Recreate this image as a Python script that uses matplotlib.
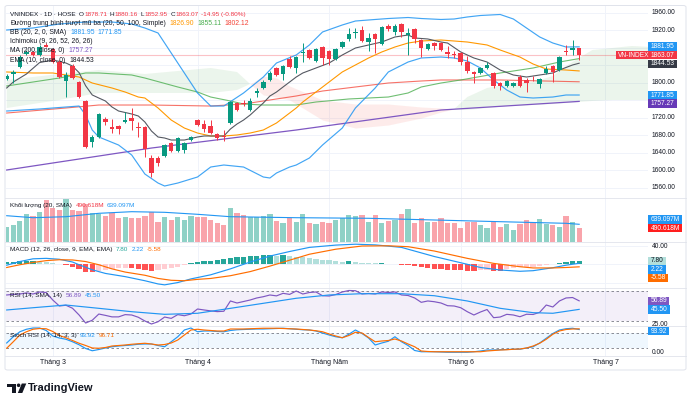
import numpy as np
import matplotlib
matplotlib.use("Agg")
import matplotlib.pyplot as plt
from matplotlib.patches import Rectangle, Polygon, Ellipse, FancyBboxPatch

plt.rcParams['font.family'] = ['Liberation Sans', 'DejaVu Sans']

# ------------------------------------------------------------------ DATA
opens = [1809.6, 1819.9, 1835.2, 1865.6, 1870.2, 1863.3, 1886.2, 1877.0, 1847.3, 1803.9,
         1838.2, 1801.6, 1758.2, 1664.5, 1675.9, 1717.0, 1698.7, 1701.0, 1710.2, 1719.3,
         1699.9, 1698.7, 1627.9, 1627.9, 1632.4, 1662.2, 1643.9, 1646.2, 1669.0, 1714.7,
         1705.6, 1701.0, 1682.7, 1679.3, 1707.9, 1753.6, 1754.7, 1737.6, 1777.6, 1787.9,
         1806.2, 1833.6, 1819.9, 1854.2, 1833.6, 1867.9, 1874.7, 1849.6, 1881.6, 1872.5,
         1854.2, 1881.6, 1899.9, 1912.5, 1920.5, 1893.0, 1911.3, 1888.5, 1929.6, 1915.9,
         1934.2, 1909.0, 1922.7, 1897.6, 1877.0, 1890.7, 1890.7, 1870.2, 1865.6, 1867.9,
         1847.3, 1824.5, 1822.2, 1833.6, 1822.2, 1799.3, 1792.5, 1792.5, 1813.0, 1806.2,
         1809.6, 1797.0, 1822.2, 1838.2, 1829.0, 1872.5, 1874.7, 1878.71]
highs = [1819.9, 1829.0, 1863.3, 1874.7, 1872.5, 1886.2, 1890.7, 1879.3, 1851.9, 1824.5,
         1842.7, 1803.9, 1760.5, 1680.5, 1730.7, 1721.6, 1717.0, 1703.3, 1733.0, 1742.2,
         1710.2, 1701.0, 1634.7, 1632.4, 1659.9, 1664.5, 1675.9, 1664.5, 1678.2, 1717.0,
         1714.7, 1714.7, 1685.0, 1691.9, 1758.2, 1755.9, 1760.5, 1765.0, 1787.9, 1806.2,
         1826.7, 1835.9, 1840.5, 1861.0, 1861.0, 1890.7, 1877.0, 1879.3, 1883.9, 1874.7,
         1879.3, 1895.3, 1925.0, 1925.0, 1929.6, 1913.6, 1913.6, 1929.6, 1934.2, 1934.2,
         1936.5, 1925.0, 1925.0, 1899.9, 1890.7, 1893.0, 1893.0, 1883.9, 1872.5, 1870.2,
         1861.0, 1826.7, 1835.9, 1847.3, 1824.5, 1801.6, 1806.2, 1801.6, 1817.6, 1810.7,
         1815.3, 1810.7, 1838.2, 1840.5, 1861.0, 1886.2, 1897.6, 1880.16]
lows = [1806.2, 1799.3, 1833.6, 1863.3, 1861.0, 1861.0, 1881.6, 1845.0, 1810.7, 1767.3,
        1808.5, 1765.0, 1650.7, 1653.0, 1673.6, 1703.3, 1685.0, 1682.7, 1707.9, 1691.9,
        1675.9, 1630.2, 1584.5, 1609.6, 1630.2, 1641.6, 1641.6, 1639.3, 1666.7, 1701.0,
        1687.3, 1682.7, 1669.0, 1666.7, 1705.6, 1735.3, 1746.7, 1735.3, 1767.3, 1785.6,
        1803.9, 1815.3, 1806.2, 1833.6, 1822.2, 1847.3, 1854.2, 1847.3, 1840.5, 1840.5,
        1851.9, 1879.3, 1895.3, 1902.2, 1893.0, 1872.5, 1867.9, 1886.2, 1918.2, 1909.0,
        1904.5, 1863.3, 1890.7, 1858.7, 1874.7, 1874.7, 1872.5, 1856.5, 1856.5, 1840.5,
        1822.2, 1799.3, 1819.9, 1831.3, 1787.9, 1783.3, 1790.2, 1790.2, 1790.2, 1778.7,
        1803.9, 1787.9, 1819.9, 1801.6, 1826.7, 1863.3, 1863.3, 1852.95]
closes = [1815.3, 1825.6, 1859.4, 1870.2, 1863.3, 1882.3, 1882.7, 1847.3, 1813.0, 1817.6,
          1810.7, 1767.3, 1653.0, 1675.9, 1728.5, 1710.2, 1694.2, 1694.2, 1714.7, 1712.4,
          1697.6, 1648.4, 1593.6, 1616.5, 1657.6, 1643.9, 1673.6, 1662.2, 1675.9, 1703.3,
          1694.2, 1685.0, 1673.6, 1677.0, 1755.9, 1737.6, 1751.3, 1758.2, 1779.9, 1801.6,
          1822.2, 1817.6, 1838.2, 1835.9, 1858.7, 1871.3, 1856.5, 1877.0, 1856.5, 1854.2,
          1877.0, 1893.0, 1911.3, 1915.9, 1895.3, 1902.2, 1899.9, 1927.3, 1922.7, 1929.6,
          1915.9, 1913.6, 1899.9, 1879.3, 1888.5, 1883.9, 1874.7, 1865.6, 1863.3, 1847.3,
          1826.7, 1819.9, 1833.6, 1840.5, 1792.5, 1792.5, 1803.9, 1799.3, 1792.5, 1799.3,
          1807.4, 1808.5, 1831.3, 1824.5, 1858.7, 1870.2, 1879.3, 1863.07]

volume_m = [527, 612, 772, 1020, 958, 1107, 1540, 1231, 1169, 1577,
            1169, 1132, 1379, 1045, 1020, 958, 1045, 884, 921, 860,
            884, 958, 1107, 736, 897, 798, 921, 798, 958, 921,
            921, 798, 674, 612, 1256, 1070, 983, 897, 897, 946,
            1008, 760, 699, 884, 711, 1020, 674, 637, 736, 699,
            798, 884, 983, 958, 983, 736, 983, 699, 760, 798,
            1020, 1206, 674, 860, 736, 736, 884, 699, 699, 513,
            736, 736, 612, 513, 736, 550, 637, 427, 637, 798,
            699, 835, 637, 612, 550, 946, 720, 490.618]
vol_sma_idx = [0, 4, 9, 14, 19, 24, 29, 34, 44, 55, 65, 75, 85, 87]
vol_sma = [957, 883, 920, 1046, 1106, 1083, 1009, 920, 883, 861, 798, 735, 675, 639.097]

bb_up_idx = [0, 4, 8, 12, 16, 19, 21, 23, 25, 27, 29, 31, 33, 36, 39, 41, 44, 46, 48, 51,
             53, 56, 58, 61, 63, 66, 68, 70, 72, 75, 77, 79, 81, 83, 85, 87]
bb_up = [1920.5, 1925.0, 1934.2, 1938.7, 1938.7, 1934.2, 1925.0, 1913.6, 1867.9, 1822.2,
         1776.5, 1746.7, 1746.7, 1776.5, 1813.0, 1845.0, 1863.3, 1886.2, 1915.9, 1931.9,
         1941.0, 1944.5, 1946.7, 1949.0, 1946.7, 1944.5, 1945.6, 1950.2, 1953.6, 1955.9,
         1945.6, 1925.0, 1904.5, 1890.7, 1881.6, 1881.95]
bb_lo_idx = [0, 5, 11, 12, 13, 14, 17, 19, 21, 23, 24, 26, 29, 31, 33, 36, 39, 40, 41, 43,
             44, 46, 48, 51, 53, 56, 58, 61, 63, 66, 68, 70, 72, 74, 76, 78, 80, 83, 85, 87]
bb_lo = [1735.3, 1739.9, 1746.7, 1726.2, 1691.9, 1675.9, 1657.6, 1634.7, 1591.3, 1570.7,
         1563.9, 1570.7, 1584.5, 1607.3, 1611.9, 1607.3, 1584.5, 1582.2, 1593.6, 1607.3,
         1611.9, 1627.9, 1657.6, 1696.4, 1742.2, 1787.9, 1824.5, 1847.3, 1856.5, 1858.7,
         1856.5, 1849.6, 1833.6, 1806.2, 1783.3, 1767.3, 1765.0, 1767.3, 1771.9, 1771.85]

ema10_idx = [0, 1, 3, 5, 7, 9, 10, 11, 12, 13, 14, 15, 16, 17, 19, 20, 21, 22, 23, 24,
             25, 27, 29, 30, 33, 34, 35, 36, 37, 38, 39, 40, 41, 42, 43, 44, 45, 47, 49, 51,
             53, 55, 57, 59, 61, 62, 64, 66, 67, 69, 71, 73, 75, 77, 79, 81, 83, 84, 86, 87]
ema10 = [1787.9, 1801.6, 1819.9, 1846.0, 1852.0, 1845.0, 1838.0, 1823.0, 1793.0, 1772.0,
         1765.0, 1758.2, 1744.5, 1735.3, 1728.5, 1723.9, 1710.2, 1689.6, 1675.9, 1673.6,
         1669.0, 1669.0, 1675.9, 1678.2, 1678.2, 1694.2, 1705.6, 1714.7, 1726.2, 1739.9,
         1753.6, 1769.6, 1778.7, 1790.2, 1801.6, 1813.0, 1822.2, 1833.6, 1845.0, 1863.3,
         1879.3, 1886.2, 1893.0, 1904.5, 1909.0, 1902.2, 1899.9, 1893.0, 1890.7, 1870.2,
         1856.5, 1847.3, 1829.0, 1817.6, 1813.0, 1817.6, 1822.2, 1829.0, 1840.5, 1844.53]

ema20_idx = [0, 4, 7, 11, 13, 16, 18, 20, 21, 23, 25, 27, 29, 31, 33, 35, 37, 39, 41, 43,
             44, 45, 47, 49, 51, 53, 55, 57, 59, 61, 63, 66, 70, 73, 75, 78, 80, 82, 85, 87]
ema20 = [1824.5, 1822.2, 1822.2, 1813.0, 1799.3, 1787.9, 1778.7, 1767.3, 1765.0, 1742.2,
         1714.7, 1696.4, 1685.0, 1678.2, 1678.2, 1680.5, 1685.0, 1691.9, 1707.9, 1730.7,
         1742.2, 1755.9, 1778.7, 1801.6, 1824.5, 1840.5, 1856.5, 1870.2, 1881.6, 1890.7,
         1895.3, 1897.6, 1893.0, 1886.2, 1874.7, 1858.7, 1842.7, 1831.3, 1829.0, 1826.90]

ema50_idx = [0, 4, 8, 12, 14, 19, 21, 26, 29, 31, 34, 36, 39, 42, 44, 47, 52, 58, 61, 63,
             66, 69, 75, 80, 84, 87]
ema50 = [1792.5, 1801.6, 1810.7, 1822.2, 1822.2, 1817.6, 1810.7, 1790.2, 1778.7, 1767.3,
         1758.2, 1751.3, 1749.0, 1749.0, 1749.0, 1755.9, 1762.8, 1767.3, 1776.5, 1790.2,
         1799.3, 1806.2, 1822.2, 1833.6, 1847.3, 1855.11]

ema100_idx = [0, 9, 14, 22, 31, 36, 41, 44, 48, 53, 58, 63, 66, 75, 87]
ema100 = [1730.7, 1742.2, 1749.0, 1749.0, 1746.7, 1751.3, 1762.8, 1769.6, 1781.0, 1790.2,
          1799.3, 1803.9, 1806.2, 1806.2, 1802.12]

ma200_idx = [0, 22, 44, 66, 87]
ma200 = [1600.5, 1650.7, 1691.9, 1737.6, 1757.27]

cloud_idx = [0, 8, 14, 21, 31, 35, 37, 39, 41, 43, 48, 53, 58, 63, 66, 68, 70, 73, 76, 80,
             83, 85, 87, 89, 92, 95, 98]
span_a = [1806.2, 1819.9, 1829.0, 1819.9, 1833.6, 1824.5, 1797.0, 1771.9, 1767.3, 1760.5,
          1714.7, 1696.4, 1703.3, 1719.3, 1733.0, 1739.9, 1767.3, 1787.9, 1797.0, 1801.6,
          1815.3, 1838.2, 1856.5, 1874.7, 1879.3, 1883.9, 1881.6]
span_b = [1742.2, 1760.5, 1776.5, 1776.5, 1776.5, 1783.3, 1797.0, 1815.3, 1810.7, 1792.5,
          1760.5, 1751.3, 1751.3, 1744.5, 1742.2, 1739.9, 1737.6, 1742.2, 1746.7, 1749.0,
          1751.3, 1753.6, 1755.9, 1758.2, 1760.5, 1760.5, 1760.5]

macd_idx = [0, 2, 4, 6, 8, 10, 11, 13, 15, 18, 21, 23, 24, 26, 28, 31, 34, 37, 40, 43,
            46, 50, 53, 56, 60, 65, 70, 72, 75, 78, 80, 83, 85, 87]
macd_line = [-2, 6, 12, 13, 11, 5, -1, -12, -20, -27, -36, -43, -45, -40, -32, -23, -10, 5, 18, 28,
             37, 42, 44, 42.5, 37, 17, 0, -7, -12.5, -15.3, -14, -7.5, -2, 2.22]
signal_idx = [0, 2, 4, 6, 8, 10, 12, 14, 16, 18, 21, 23, 25, 27, 29, 31, 34, 37, 40, 43,
              46, 50, 54, 58, 61, 65, 70, 74, 78, 80, 83, 85, 87]
signal_line = [-7, -1, 4, 8, 10, 9.5, 6, -1, -10, -17, -24, -31, -35, -36, -33, -31, -25, -16, -4, 9,
               22, 33, 40, 40.5, 38.5, 29, 13, 2, -5.3, -8, -8, -7, -5.58]
macd_hist = [5, 6, 7, 8, 8, 6, 4, 2, 1, -1,
             -5, -10, -16, -17, -14, -12, -10, -9, -8, -8,
             -10, -13, -14, -13, -11, -8, -5, -1, 2, 5,
             7, 8, 10, 12, 14, 16, 17, 18, 19, 20,
             21, 19, 20, 18, 16, 15, 14, 12, 10, 9,
             8, 6, 6.5, 4, 3, 2.5, 2, 2.5, 1.5, 0.5,
             -1, -2, -4, -6, -8, -10, -11, -12, -13, -13.5,
             -14, -15, -13, -12, -14, -14.5, -11, -9, -7, -6,
             -5, -3, -1.5, 0.5, 3, 5, 6.5, 7.8]

rsi = [64.7, 65.5, 66, 67.5, 66, 68.7, 68, 58, 50, 51,
       47, 38, 27.3, 31, 39.3, 37.5, 35.5, 35.5, 38.5, 38,
       35, 30, 26, 29, 35.3, 33.5, 38.5, 37, 39.3, 46,
       44.7, 43.5, 42.5, 43, 56.7, 54, 56, 58, 60.7, 62.4,
       64.7, 63.5, 66.9, 65.5, 70, 66, 68, 68.7, 63.7, 63.3,
       65.3, 68.7, 70.7, 70.4, 66, 66.7, 66, 68.7, 68, 68.7,
       64.7, 64, 60.7, 54.9, 56.7, 55.7, 54, 50.4, 50, 47.7,
       42.4, 38, 42, 45.3, 34.4, 35.3, 38.9, 38, 35.7, 39,
       38.7, 41.6, 51.3, 48.7, 56.7, 60.7, 61.3, 56.89]
rsi_sma_idx = [0, 4, 9, 14, 19, 24, 29, 34, 39, 44, 49, 54, 60, 65, 70, 75, 80, 83, 87]
rsi_sma = [44.7, 47.7, 51.3, 46.9, 42.4, 38.9, 40.3, 46.9, 53.6, 60.3,
           64.7, 66.4, 66.4, 63.7, 56.7, 46.9, 41.1, 40.3, 45.5]

stoch_k = [40, 65, 85, 95, 100, 100, 90, 68, 60, 55,
           45, 33, 18, 9, 14, 20, 25, 28, 30, 32,
           35, 36, 36, 30, 25, 45, 65, 92, 100, 85,
           88, 88, 86, 85, 90, 93, 94, 95, 96, 96,
           97, 98, 99, 97, 95, 93, 92, 88, 80, 72,
           65, 61, 75, 92, 78, 60, 32, 40, 47, 65,
           45, 30, 10, 5, 5, 5, 4, 3, 3, 3,
           3, 5, 8, 12, 12, 13, 14, 15, 15, 20,
           25, 40, 59, 78, 92, 97, 99, 93.92]
stoch_d = [19, 45, 72, 85, 95, 98, 97, 86, 70, 61,
           50, 39, 30, 20, 19, 22, 28, 30, 32, 35,
           37, 39, 36, 32, 34, 40, 52, 72, 92, 95,
           92, 90, 88, 88, 96, 96, 96, 97, 98, 99,
           99, 99, 98, 97, 96, 94, 92, 89, 85, 76,
           68, 61, 70, 83, 80, 62, 45, 48, 50, 56,
           48, 36, 25, 8, 6, 5, 5, 5, 5, 5,
           5, 5, 5, 8, 10, 12, 13, 15, 16, 20,
           28, 39, 55, 75, 88, 94, 96, 96.71]

month_idx = [7, 29, 49, 69, 91]
month_labels = ["Tháng 3", "Tháng 4", "Tháng Năm", "Tháng 6", "Tháng 7"]
price_ticks = [1560, 1600, 1640, 1680, 1720, 1760, 1800, 1840, 1880, 1920, 1960]
macd_ticks = [40, 0, -40]
rsi_ticks = [25, 50, 75]
stoch_ticks = [0, 100]

# ------------------------------------------------------------------ STYLE / LAYOUT
W, H, DPI = 690, 403, 100
TXT = '#131722'
UP, DN = '#089981', '#f23645'
BLUE, ORANGE, PURPLE = '#2196f3', '#ff6d00', '#7e57c2'
GRID = '#f0f3fa'
SEP = '#e0e3eb'

fig = plt.figure(figsize=(W / DPI, H / DPI), dpi=DPI, facecolor='white')
renderer = fig.canvas.get_renderer()


def fx(px):
    return px / W


def fy(py):
    return 1 - py / H


PLOT_L, PLOT_R = 6, 648
BAR0, BARW = 6.7, 6.58
XLIM = ((PLOT_L - BAR0) / BARW, (PLOT_R - BAR0) / BARW)
PANES = {'p': (6, 198), 'v': (198, 242), 'm': (242, 287.5), 'r': (287.5, 326), 's': (326, 356)}


def pane(key, ylim):
    top, bottom = PANES[key]
    ax = fig.add_axes([fx(PLOT_L), fy(bottom), (PLOT_R - PLOT_L) / W, (bottom - top) / H])
    ax.set_xlim(*XLIM)
    ax.set_ylim(*ylim)
    ax.axis('off')
    for m in month_idx:
        ax.axvline(m, color=GRID, lw=0.7, zorder=0)
    return ax


ax_p = pane('p', (1536.5, 1975.3))
ax_v = pane('v', (-18.5, 1614))
ax_m = pane('m', (-50.8, 48.8))
ax_r = pane('r', (23.33, 74.67))
ax_s = pane('s', (-12, 108))

n = len(closes)
idx = np.arange(n)
o, h, l, c = map(np.array, (opens, highs, lows, closes))
up = c >= o
cols = np.where(up, UP, DN)

# ---------------- main pane
for t in price_ticks:
    ax_p.axhline(t, color=GRID, lw=0.7, zorder=0)

ci = np.array(cloud_idx, float)
sa, sb = np.array(span_a), np.array(span_b)
ax_p.fill_between(ci, sa, sb, where=sa >= sb, interpolate=True, color='#43a047', alpha=0.1, lw=0, zorder=1)
ax_p.fill_between(ci, sa, sb, where=sa < sb, interpolate=True, color='#f44336', alpha=0.1, lw=0, zorder=1)

ax_p.axhline(closes[-1], color=DN, lw=0.8, alpha=0.3, zorder=2)

ax_p.plot(ma200_idx, ma200, color=PURPLE, lw=0.9, zorder=3)
ax_p.plot(ema100_idx, ema100, color='#f44336', lw=0.8, alpha=0.75, zorder=3)
ax_p.plot(ema50_idx, ema50, color='#4caf50', lw=0.8, alpha=0.8, zorder=3)
ax_p.plot(ema20_idx, ema20, color='#ff9800', lw=0.8, zorder=3)
ax_p.plot(bb_up_idx, bb_up, color=BLUE, lw=0.85, alpha=0.85, zorder=3)
ax_p.plot(bb_lo_idx, bb_lo, color=BLUE, lw=0.85, alpha=0.85, zorder=3)
ax_p.plot(ema10_idx, ema10, color='#555962', lw=0.8, zorder=3)

ax_p.vlines(idx, l, h, colors=cols, lw=0.7, zorder=5)
body = np.maximum(np.abs(c - o), 0.9)
ax_p.bar(idx, body, bottom=np.minimum(o, c), width=0.68, color=cols, lw=0, zorder=6)

# ---------------- volume pane
ax_v.bar(idx, volume_m, width=0.8, color=cols, alpha=0.45, lw=0, zorder=2)
ax_v.plot(vol_sma_idx, vol_sma, color=BLUE, lw=0.8, zorder=3)

# ---------------- MACD pane
for t in macd_ticks:
    ax_m.axhline(t, color=GRID, lw=0.7, zorder=0)
hist = np.array(macd_hist)
hcols = []
for i, v in enumerate(hist):
    prev = hist[i - 1] if i > 0 else v
    if v >= 0:
        hcols.append('#26a69a' if v >= prev else '#b2dfdb')
    else:
        hcols.append('#ff5252' if v <= prev else '#ffcdd2')
ax_m.bar(idx, hist, width=0.8, color=hcols, lw=0, zorder=2)
ax_m.plot(macd_idx, macd_line, color=BLUE, lw=0.85, zorder=3)
ax_m.plot(signal_idx, signal_line, color=ORANGE, lw=0.85, zorder=3)

# ---------------- RSI pane
ax_r.axhspan(30, 70, color=PURPLE, alpha=0.09, lw=0, zorder=0)
for t in (70, 30):
    ax_r.axhline(t, color='#787b86', lw=0.6, ls=(0, (3, 3)), zorder=1)
ax_r.plot(idx, rsi, color=PURPLE, lw=0.85, zorder=3)
ax_r.plot(rsi_sma_idx, rsi_sma, color=BLUE, lw=0.85, zorder=3)

# ---------------- Stoch RSI pane
ax_s.axhspan(20, 80, color=BLUE, alpha=0.07, lw=0, zorder=0)
for t in (80, 20):
    ax_s.axhline(t, color='#787b86', lw=0.6, ls=(0, (3, 3)), zorder=1)
ax_s.plot(idx, stoch_k, color=BLUE, lw=0.85, zorder=3)
ax_s.plot(idx, stoch_d, color=ORANGE, lw=0.85, zorder=3)


# ------------------------------------------------------------------ TEXT HELPERS
def ypx(ax, v):
    return H - ax.transData.transform((0, v))[1]


def xpx(ax, v):
    return ax.transData.transform((v, 0))[0]


BOX_H = 8.4


def draw_box(y, text, fc, tc='white', x0=648):
    t = fig.text(fx(x0 + 2.4), fy(y), text, ha='left', va='center', fontsize=4.8,
                 color=tc, zorder=11)
    bb = t.get_window_extent(renderer)
    fig.add_artist(Rectangle((fx(x0), fy(y + BOX_H / 2)), (bb.x1 + 2.4 - x0) / W, BOX_H / H,
                             transform=fig.transFigure, fc=fc, ec='none', zorder=10))


def place_boxes(ax, key, items, anchor=0, gap=8.6):
    """Stack value boxes like the price scale: the anchor box keeps its place,
    the others are pushed away so that none overlap; boxes stay inside the pane."""
    top, bottom = PANES[key]
    y0 = [min(max(ypx(ax, it[0]), top + BOX_H / 2 + 1), bottom - BOX_H / 2 - 1) for it in items]
    order = sorted(range(len(items)), key=lambda k: y0[k])
    pos = order.index(anchor)
    ys = {order[pos]: y0[order[pos]]}
    for j in range(pos - 1, -1, -1):
        k = order[j]
        ys[k] = min(y0[k], ys[order[j + 1]] - gap)
    for j in range(pos + 1, len(order)):
        k = order[j]
        ys[k] = max(y0[k], ys[order[j - 1]] + gap)
    for k, (v, text, fc, tc) in enumerate(items):
        draw_box(ys[k], text, fc, tc)
    return [ys[k] for k in range(len(items))]


def tick_labels(ax, key, ticks, fmt, boxes):
    top, bottom = PANES[key]
    for t in ticks:
        y = ypx(ax, t)
        if y < top + 2 or y > bottom + 1:
            continue
        if any(abs(y - b) < 7.5 for b in boxes):
            continue
        fig.text(fx(652), fy(y), fmt(t), ha='left', va='center', fontsize=4.8,
                 color=TXT, zorder=4)


def row(x, y, segs, fs=4.9):
    for text, color, gap in segs:
        t = fig.text(fx(x), fy(y), text, ha='left', va='center', fontsize=fs,
                     color=color, zorder=12)
        x = t.get_window_extent(renderer).x1 + gap


# value boxes
main_boxes = place_boxes(ax_p, 'p', [(closes[-1], f"{closes[-1]:.2f}", DN, 'white'),
                                     (bb_up[-1], f"{bb_up[-1]:.2f}", BLUE, 'white'),
                                     (ema10[-1], f"{ema10[-1]:.2f}", '#363a45', 'white'),
                                     (bb_lo[-1], f"{bb_lo[-1]:.2f}", BLUE, 'white'),
                                     (ma200[-1], f"{ma200[-1]:.2f}", '#673ab7', 'white')])
draw_box(main_boxes[0], "VN-INDEX", DN, 'white', x0=616)
fig.add_artist(Rectangle((fx(646.5), fy(main_boxes[0] + BOX_H / 2)), 2 / W, BOX_H / H,
                         transform=fig.transFigure, fc=DN, ec='none', zorder=10))
vol_boxes = place_boxes(ax_v, 'v', [(volume_m[-1], f"{volume_m[-1]:.3f}M", '#ff1e1e', 'white'),
                                    (vol_sma[-1], f"{vol_sma[-1]:.3f}M", BLUE, 'white')])
macd_boxes = place_boxes(ax_m, 'm', [(macd_hist[-1], f"{macd_hist[-1]:.2f}", '#b2dfdb', TXT),
                                     (macd_line[-1], f"{macd_line[-1]:.2f}", BLUE, 'white'),
                                     (signal_line[-1], f"{signal_line[-1]:.2f}", ORANGE, 'white')])
rsi_boxes = place_boxes(ax_r, 'r', [(rsi[-1], f"{rsi[-1]:.2f}", PURPLE, 'white'),
                                    (rsi_sma[-1], f"{rsi_sma[-1]:.2f}", BLUE, 'white')])
stoch_boxes = place_boxes(ax_s, 's', [(stoch_k[-1], f"{stoch_k[-1]:.2f}", BLUE, 'white')])

# right price-scale labels (hidden where a value box sits, as on the price scale)
tick_labels(ax_p, 'p', price_ticks, lambda t: f"{t:.2f}", main_boxes)
tick_labels(ax_m, 'm', macd_ticks, lambda t: f"{t:.2f}".replace('-', '−'), macd_boxes)
tick_labels(ax_r, 'r', rsi_ticks, lambda t: f"{t:.2f}", rsi_boxes)
tick_labels(ax_s, 's', stoch_ticks, lambda t: f"{t:.2f}", stoch_boxes)

# legends
row(10, 14.2, [("VNINDEX · 1D · HOSE", TXT, 3.5),
               ("O", TXT, 0.2), (f"{opens[-1]:.2f}", DN, 2.8),
               ("H", TXT, 0.2), (f"{highs[-1]:.2f}", DN, 2.8),
               ("L", TXT, 0.2), (f"{lows[-1]:.2f}", DN, 2.8),
               ("C", TXT, 0.2), (f"{closes[-1]:.2f}", DN, 2.8),
               ("-14.95 (-0.80%)", DN, 0)], fs=4.6)
row(10, 23.5, [("Đường trung bình trượt mũ ba (20, 50, 100, Simple)", TXT, 4),
               (f"{ema20[-1]:.2f}", '#ff9800', 3), (f"{ema50[-1]:.2f}", '#4caf50', 3),
               (f"{ema100[-1]:.2f}", '#f44336', 0)])
row(10, 32.6, [("BB (20, 2, 0, SMA)", TXT, 4), (f"{bb_up[-1]:.2f}", BLUE, 3),
               (f"{bb_lo[-1]:.2f}", BLUE, 0)])
row(10, 41.8, [("Ichimoku (9, 26, 52, 26, 26)", TXT, 0)])
row(10, 50.9, [("MA (200, close, 0)", TXT, 4), (f"{ma200[-1]:.2f}", PURPLE, 0)])
row(10, 60.1, [("EMA (10, close, 0)", TXT, 4), (f"{ema10[-1]:.2f}", TXT, 0)])

SUB_FS = 4.6
row(10, 205.5, [("Khối lượng (20, SMA)", TXT, 3.5), (f"{volume_m[-1]:.3f}M", DN, 3),
                (f"{vol_sma[-1]:.3f}M", BLUE, 0)], fs=SUB_FS)
row(10, 249.5, [("MACD (12, 26, close, 9, EMA, EMA)", TXT, 3.5), (f"{macd_hist[-1]:.2f}", '#26a69a', 3),
                (f"{macd_line[-1]:.2f}", BLUE, 3), (f"{signal_line[-1]:.2f}", ORANGE, 0)], fs=SUB_FS)
row(10, 295.3, [("RSI (14, SMA, 14)", TXT, 3.5), (f"{rsi[-1]:.2f}", PURPLE, 3),
                (f"{rsi_sma[-1]:.2f}", BLUE, 0)], fs=SUB_FS)
row(10, 335.2, [("Stoch RSI (14, 14, 3, 3)", TXT, 3.5), (f"{stoch_k[-1]:.2f}", BLUE, 3),
                (f"{stoch_d[-1]:.2f}", ORANGE, 0)], fs=SUB_FS)

# time axis
for m, lab in zip(month_idx, month_labels):
    fig.text(xpx(ax_s, m) / W, fy(362.8), lab, ha='center', va='center', fontsize=5,
             color=TXT, zorder=4)

# separators and frame
for yy in (198, 242, 287.5, 326, 356):
    fig.add_artist(plt.Line2D([fx(5), fx(686)], [fy(yy), fy(yy)], color=SEP, lw=0.6, zorder=7))
fig.add_artist(FancyBboxPatch((fx(5), fy(370)), (686 - 5) / W, (370 - 5.5) / H,
                              boxstyle='round,pad=0,rounding_size=0.004',
                              transform=fig.transFigure, fc='none', ec=SEP, lw=0.7, zorder=7))


# TradingView logo
def P(x, y):
    return (fx(x), fy(y))


fig.add_artist(Polygon([P(7, 383.5), P(16, 383.5), P(16, 393), P(12, 393), P(12, 387), P(7, 387)],
                       closed=True, transform=fig.transFigure, fc=TXT, ec='none'))
fig.add_artist(Ellipse(P(18.6, 385.3), 3.6 / W, 3.6 / H, transform=fig.transFigure, fc=TXT, ec='none'))
fig.add_artist(Polygon([P(21.8, 383.5), P(26.3, 383.5), P(22.3, 393), P(17.8, 393)],
                       closed=True, transform=fig.transFigure, fc=TXT, ec='none'))
fig.text(fx(28), fy(388.3), "TradingView", ha='left', va='center', fontsize=8,
         fontweight='bold', color=TXT)

fig.savefig("out.png", dpi=DPI, facecolor='white')
